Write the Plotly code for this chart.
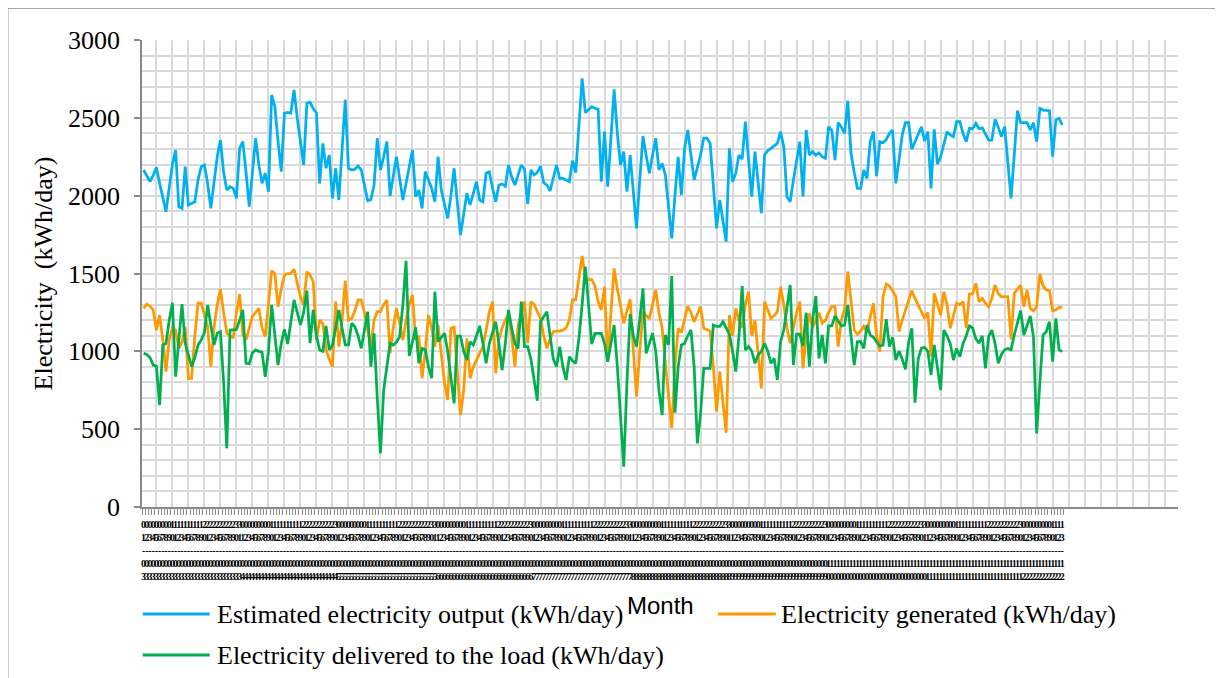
import plotly.graph_objects as go
import pandas as pd

# ---------------- data ----------------
estimated_output = [
    2165, 2130, 2090, 2130, 2182, 2080, 1980, 1897, 2050, 2200,
    2293, 1929, 1918, 2186, 1940, 1950, 1961, 2100, 2186, 2197,
    2080, 1918, 2100, 2250, 2357, 2150, 2036, 2058, 2047, 1983,
    2304, 2347, 2150, 1929, 2150, 2369, 2200, 2079, 2144, 2026,
    2647, 2572, 2350, 2154, 2529, 2535, 2531, 2679, 2500, 2357,
    2197, 2593, 2600, 2560, 2531, 2079, 2336, 2176, 2261, 1983,
    2176, 1972, 2300, 2615, 2176, 2165, 2170, 2190, 2165, 2060,
    1968, 1975, 2068, 2369, 2165, 2250, 2347, 1998, 2120, 2250,
    2110, 1972, 2080, 2190, 2293, 1993, 2036, 1918, 2154, 2100,
    2047, 1961, 2250, 2036, 1950, 1854, 2000, 2176, 1960, 1747,
    1880, 2015, 1940, 2010, 2090, 1972, 1961, 2144, 2154, 2050,
    1961, 2068, 2075, 2060, 2197, 2120, 2068, 2133, 2197, 2170,
    1946, 2165, 2133, 2150, 2190, 2083, 2068, 2030, 2110, 2197,
    2111, 2111, 2100, 2090, 2225, 2148, 2450, 2754, 2533, 2550,
    2572, 2561, 2555, 2090, 2411, 2058, 2370, 2683, 2400, 2197,
    2283, 2026, 2261, 2020, 1790, 2100, 2383, 2260, 2144, 2260,
    2369, 2165, 2208, 2133, 1950, 1726, 2000, 2250, 2004, 2304,
    2422, 2260, 2101, 2180, 2261, 2369, 2369, 2336, 2060, 1790,
    1972, 1850, 1704, 2304, 2090, 2144, 2261, 2235, 2475, 2230,
    1993, 2283, 2100, 1887, 2261, 2290, 2304, 2320, 2336, 2411,
    2315, 1993, 1961, 2100, 2229, 2347, 1993, 2422, 2261, 2283,
    2260, 2275, 2250, 2240, 2443, 2420, 2229, 2469, 2440, 2400,
    2610, 2272, 2150, 2047, 2047, 2165, 2111, 2347, 2411, 2126,
    2347, 2340, 2360, 2400, 2422, 2079, 2230, 2390, 2469, 2469,
    2298, 2350, 2400, 2443, 2350, 2411, 2047, 2426, 2203, 2250,
    2330, 2411, 2390, 2379, 2475, 2475, 2400, 2347, 2433, 2430,
    2465, 2430, 2435, 2400, 2357, 2357, 2490, 2440, 2379, 2443,
    2200, 1983, 2260, 2546, 2469, 2469, 2469, 2422, 2469, 2347,
    2561, 2550, 2546, 2546, 2250, 2486, 2497, 2454,
]

generated = [
    1276, 1304, 1290, 1266, 1137, 1233, 1073, 870, 1073, 1150,
    1137, 1019, 1060, 1158, 827, 827, 1100, 1309, 1309, 1230,
    1158, 901, 1150, 1300, 1398, 1250, 1116, 1100, 1084, 1250,
    1368, 1105, 1073, 1150, 1223, 1250, 1276, 1150, 1094, 1300,
    1518, 1500, 1287, 1400, 1490, 1500, 1500, 1527, 1440, 1350,
    1298, 1512, 1490, 1447, 1073, 1200, 1180, 1009, 950, 901,
    1319, 1030, 1200, 1454, 1201, 1210, 1260, 1330, 1330, 1250,
    1137, 1030, 1200, 1255, 1255, 1300, 1330, 987, 1150, 1276,
    1180, 1073, 1200, 1300, 1362, 1073, 1100, 827, 1000, 1233,
    1150, 1030, 1169, 1000, 800, 687, 1148, 1155, 900, 591,
    750, 1084, 827, 900, 944, 990, 1030, 1137, 1250, 1319,
    859, 1073, 1150, 1201, 1244, 1100, 901, 1169, 1250, 1319,
    1052, 1319, 1300, 1260, 1212, 1100, 1019, 1080, 1126, 1130,
    1130, 1137, 1150, 1201, 1330, 1330, 1480, 1612, 1469, 1460,
    1460, 1420, 1320, 1266, 1415, 933, 1250, 1533, 1400, 1287,
    1180, 1260, 1334, 1009, 709, 1000, 1255, 1230, 1210, 1300,
    1394, 1250, 1150, 923, 700, 506, 900, 1148, 1120, 1200,
    1291, 1250, 1190, 1240, 1287, 1148, 1140, 1130, 900, 612,
    870, 650, 477, 1233, 1100, 1276, 1200, 1150, 1300, 1383,
    1100, 1200, 1000, 762, 1319, 1260, 1212, 1230, 1255, 1415,
    1300, 1150, 1052, 1150, 1250, 1319, 891, 1100, 1244, 1150,
    1200, 1248, 1180, 1200, 1250, 1287, 1287, 1030, 1200, 1270,
    1512, 1300, 1137, 1110, 1130, 1160, 1120, 1220, 1309, 1100,
    998, 1351, 1433, 1420, 1390, 1351, 1126, 1200, 1260, 1330,
    1390, 1340, 1298, 1250, 1212, 1250, 966, 1373, 1300, 1233,
    1383, 1300, 1148, 1230, 1309, 1300, 1319, 1148, 1368, 1370,
    1437, 1319, 1340, 1310, 1287, 1340, 1426, 1370, 1350, 1351,
    1351, 1077, 1373, 1400, 1426, 1287, 1394, 1276, 1260, 1287,
    1497, 1420, 1394, 1390, 1261, 1265, 1283, 1283,
]

delivered = [
    987, 980, 960, 912, 905, 655, 1041, 1050, 1200, 1312,
    837, 1050, 1304, 1052, 980, 901, 960, 1040, 1073, 1120,
    1298, 1180, 1041, 1116, 1126, 800, 377, 1137, 1137, 1140,
    1200, 1266, 923, 920, 990, 1009, 1000, 995, 837, 1000,
    1298, 1100, 912, 1050, 1141, 1047, 1200, 1330, 1250, 1169,
    1250, 1390, 1052, 1266, 1100, 1009, 1000, 1163, 1009, 1041,
    1150, 1266, 1150, 1041, 1041, 1180, 1158, 1100, 1019, 1150,
    1255, 901, 1116, 700, 345, 752, 900, 1052, 1040, 1060,
    1094, 1300, 1582, 970, 1060, 1154, 923, 1019, 1010, 900,
    827, 1383, 1062, 1090, 1116, 1000, 850, 666, 1098, 1098,
    1000, 944, 1062, 1040, 1100, 1163, 1050, 923, 1050, 1120,
    1190, 1050, 880, 1050, 1266, 1150, 1050, 1019, 1319, 1030,
    1030, 950, 800, 683, 1190, 1220, 1255, 1100, 950, 901,
    1030, 900, 816, 966, 940, 923, 1084, 1300, 1544, 1300,
    1047, 1116, 1116, 1116, 1050, 933, 1050, 1169, 900, 600,
    259, 800, 1240, 1100, 1030, 1200, 1405, 987, 1050, 1116,
    1000, 750, 591, 1105, 1041, 1484, 606, 900, 1041, 1050,
    1100, 1137, 900, 409, 600, 891, 891, 891, 1169, 1160,
    1160, 1190, 1150, 1110, 1000, 870, 1100, 1420, 1009, 1030,
    1000, 923, 976, 1000, 1052, 1000, 923, 955, 816, 1062,
    1137, 1300, 1426, 912, 1111, 1111, 1034, 1248, 901, 1200,
    1355, 955, 1105, 923, 1163, 1163, 1227, 1195, 1163, 1170,
    1298, 1100, 912, 1062, 1062, 1019, 1169, 1105, 1090, 1060,
    1034, 1040, 1206, 1030, 1090, 944, 1000, 950, 884, 1060,
    1148, 670, 950, 1020, 1026, 1000, 848, 1041, 900, 752,
    1137, 1100, 1050, 944, 1019, 966, 1050, 1100, 1163, 1150,
    1080, 1052, 1100, 891, 1094, 1137, 1050, 923, 980, 1010,
    1019, 1010, 1105, 1180, 1261, 1105, 1170, 1227, 1094, 473,
    800, 1105, 1126, 1190, 933, 1212, 1009, 998,
]

series_names = [
    "Estimated electricity output (kWh/day)",
    "Electricity generated (kWh/day)",
    "Electricity delivered to the load (kWh/day)",
]
series_colors = ["#00B0F0", "#FF9900", "#00B050"]

N = len(estimated_output)
day_labels = list(pd.date_range("2019-03-01", periods=N, freq="D").strftime("%d-%m"))
stacked_labels = ["<br>".join(list(s)) for s in day_labels]

y_ticks = [0, 500, 1000, 1500, 2000, 2500, 3000]

# ---------------- geometry helpers (page pixels -> figure/paper) ----------------
OFF = 8  # default page body margin
W, H = 1223 - OFF, 678 - OFF
PL, PR, PT, PB = 142.3 - OFF, 1178.0 - OFF, 40.0 - OFF, 507.0 - OFF


def px(xp):
    return (xp - OFF - PL) / (PR - PL)


def py(yp):
    return (PB - (yp - OFF)) / (PB - PT)


X_RANGE = [0, (PR - PL) / 3.2]
xs = [i + 0.5 for i in range(N)]

SERIF = "Liberation Serif, Times New Roman, serif"
GRID = "#D9D9D9"
AXIS = "#898989"

fig = go.Figure()
for vals, name, col in zip([estimated_output, generated, delivered], series_names, series_colors):
    fig.add_trace(go.Scatter(x=xs, y=vals, mode="lines", name=name,
                             line=dict(color=col, width=2.75), showlegend=False,
                             hoverinfo="skip"))

# invisible trace to activate label axis
fig.add_trace(go.Scatter(x=[xs[0]], y=[None], xaxis="x2", showlegend=False, hoverinfo="skip"))

fig.update_layout(
    width=W, height=H,
    margin=dict(l=PL, r=W - PR, t=PT, b=H - PB, autoexpand=False),
    paper_bgcolor="white", plot_bgcolor="white",
    xaxis=dict(
        range=X_RANGE, tickmode="linear", tick0=4.5, dtick=5,
        showgrid=True, gridcolor=GRID, gridwidth=1.5,
        showticklabels=False, ticks="", zeroline=False,
        showline=True, linecolor=AXIS, linewidth=1.5,
        minor=dict(tickmode="array", tickvals=list(range(N + 1)), ticks="outside",
                   ticklen=6, tickwidth=1, tickcolor=AXIS, showgrid=False),
    ),
    xaxis2=dict(
        range=X_RANGE, overlaying="x", anchor="y", side="bottom",
        tickmode="array", tickvals=xs, ticktext=stacked_labels, tickangle=0,
        showgrid=False, zeroline=False, showline=False, ticks="",
        tickfont=dict(family=SERIF, size=10, color="black", weight="bold"),
        ticklabelstandoff=10, automargin=False,
    ),
    yaxis=dict(
        range=[0, 3000], tickmode="array", tickvals=y_ticks,
        showgrid=True, gridcolor=GRID, gridwidth=1.5, zeroline=False,
        showline=True, linecolor=AXIS, linewidth=1.5,
        ticks="outside", ticklen=6, tickcolor=AXIS, tickwidth=1.5,
        tickfont=dict(family=SERIF, size=26, color="black"),
        ticklabelstandoff=9,
        minor=dict(dtick=100, showgrid=True, gridcolor=GRID, gridwidth=1.5, ticks=""),
        title=dict(text="Electricity  (kWh/day)", font=dict(family=SERIF, size=26, color="black"),
                   standoff=8),
        automargin=False,
    ),
)

shapes = [
    # chart border
    dict(type="rect", xref="paper", yref="paper", x0=px(8), x1=px(1219), y0=py(720), y1=py(8),
         line=dict(color="#8C8C8C", width=1.5), fillcolor="rgba(0,0,0,0)", layer="below"),
]
annotations = []
legend_rows = [(143, 210, 215, 614), (718, 776, 779, 614), (143, 210, 215, 655)]
for (x0, x1, xt, yy), name, col in zip(legend_rows, series_names, series_colors):
    shapes.append(dict(type="line", xref="paper", yref="paper", x0=px(x0), x1=px(x1),
                       y0=py(yy), y1=py(yy), line=dict(color=col, width=3)))
    annotations.append(dict(xref="paper", yref="paper", x=px(xt), y=py(yy), xanchor="left",
                            yanchor="middle", text=name, showarrow=False,
                            font=dict(family=SERIF, size=26, color="black")))
annotations.append(dict(xref="paper", yref="paper", x=px(661), y=py(605), xanchor="center",
                        yanchor="middle", text="Month", showarrow=False,
                        font=dict(family="Liberation Sans, Arial, sans-serif", size=24, color="black")))
fig.update_layout(shapes=shapes, annotations=annotations)

fig.write_html("out.html")
